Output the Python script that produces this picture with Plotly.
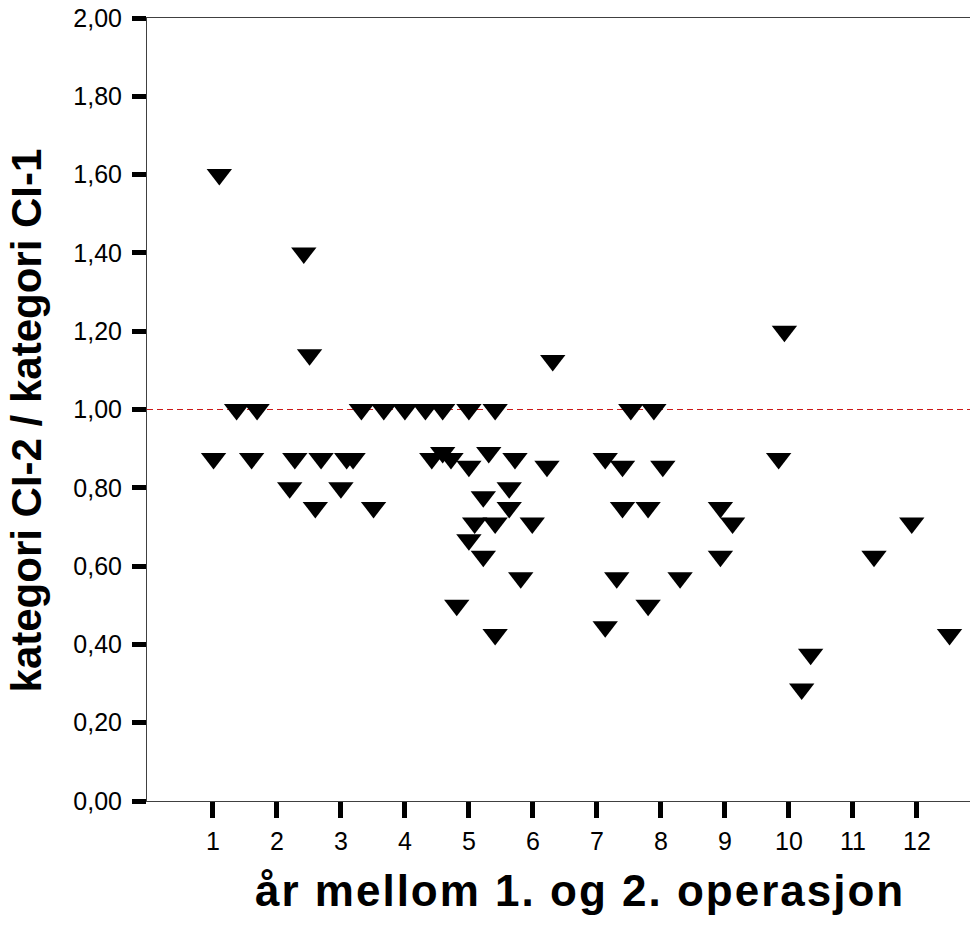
import plotly.graph_objects as go

# Years between first and second operation, and the CI-2 / CI-1 category ratio
years = [
    1.10, 2.42, 2.51, 9.93, 6.31,
    1.37, 1.69, 3.32, 3.67, 4.00, 4.32, 4.59, 5.00, 5.41, 7.53, 7.89,
    1.01, 1.605, 2.28, 2.69, 3.09, 3.19, 4.42, 4.72, 5.72, 7.13, 9.84,
    4.59, 5.31,
    5.00, 6.22, 7.40, 8.03,
    2.20, 3.00, 5.63,
    5.225,
    2.60, 3.51, 5.63, 7.40, 7.80, 8.93,
    5.09, 5.41, 5.99, 9.12, 11.92,
    5.00,
    5.225, 8.93, 11.33,
    5.81, 7.31, 8.30,
    4.81, 7.80,
    7.13,
    5.41, 12.51,
    10.34,
    10.20,
]
ratio = [
    1.60, 1.40, 1.14, 1.20, 1.125,
    1.00, 1.00, 1.00, 1.00, 1.00, 1.00, 1.00, 1.00, 1.00, 1.00, 1.00,
    0.875, 0.875, 0.875, 0.875, 0.875, 0.875, 0.875, 0.875, 0.875, 0.875, 0.875,
    0.89, 0.89,
    0.855, 0.855, 0.855, 0.855,
    0.80, 0.80, 0.80,
    0.777,
    0.75, 0.75, 0.75, 0.75, 0.75, 0.75,
    0.71, 0.71, 0.71, 0.71, 0.71,
    0.667,
    0.625, 0.625, 0.625,
    0.57, 0.57, 0.57,
    0.50, 0.50,
    0.445,
    0.425, 0.425,
    0.375,
    0.286,
]

x_ticks = list(range(1, 13))
x_tick_labels = [str(v) for v in x_ticks]
y_ticks = [0.0, 0.2, 0.4, 0.6, 0.8, 1.0, 1.2, 1.4, 1.6, 1.8, 2.0]
y_tick_labels = ["0,00", "0,20", "0,40", "0,60", "0,80", "1,00",
                 "1,20", "1,40", "1,60", "1,80", "2,00"]
reference_ratio = 1.0

x_title = "år mellom 1. og 2. operasjon"
y_title = "kategori CI-2 / kategori CI-1"

FONT = "Liberation Sans, Arial, sans-serif"

fig = go.Figure()
fig.add_trace(go.Scatter(
    x=years, y=ratio, mode="markers",
    marker=dict(symbol="triangle-down", size=22, color="black",
                line=dict(width=0)),
    hoverinfo="x+y", showlegend=False,
))

# dashed reference line at ratio 1
fig.add_shape(type="line", xref="paper", x0=0, x1=1, yref="y",
              y0=reference_ratio, y1=reference_ratio, layer="below",
              line=dict(color="rgb(205,25,25)", width=1.2, dash="6px,4px"))

fig.update_layout(
    width=970, height=925,
    margin=dict(l=147, r=0, t=18, b=124),
    paper_bgcolor="white", plot_bgcolor="white",
    font=dict(family=FONT, color="black"),
    xaxis=dict(
        range=[-0.03, 12.83], tickvals=x_ticks, ticktext=x_tick_labels,
        showgrid=False, zeroline=False,
        showline=True, linecolor="#404040", linewidth=1, mirror=True,
        ticks="outside", ticklen=16, tickwidth=5, tickcolor="black",
        ticklabelstandoff=2,
        tickfont=dict(size=25, family=FONT, color="black"),
    ),
    yaxis=dict(
        range=[0, 2], tickvals=y_ticks, ticktext=y_tick_labels,
        showgrid=False, zeroline=False,
        showline=True, linecolor="#404040", linewidth=1,
        ticks="outside", ticklen=14, tickwidth=5, tickcolor="black",
        ticklabelstandoff=5,
        tickfont=dict(size=25, family=FONT, color="black"),
    ),
    annotations=[
        dict(text="<b><span style='letter-spacing:2px'>" + x_title + "</span></b>",
             xref="paper", yref="paper",
             x=0.526, y=-0.114, xanchor="center", yanchor="middle",
             showarrow=False, font=dict(size=44, family=FONT, color="black")),
        dict(text="<b>" + y_title + "</b>", xref="paper", yref="paper",
             x=-0.147, y=0.486, xanchor="center", yanchor="middle",
             textangle=-90, showarrow=False,
             font=dict(size=42, family=FONT, color="black")),
    ],
)

fig.write_html("out.html")
